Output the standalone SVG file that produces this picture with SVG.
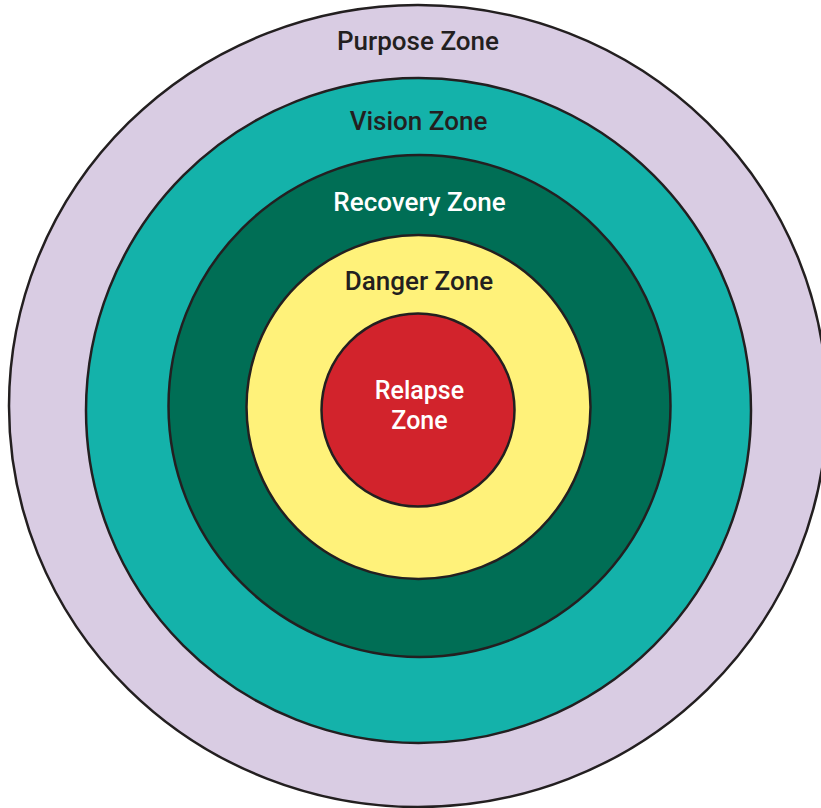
<svg xmlns="http://www.w3.org/2000/svg" width="821" height="808" viewBox="0 0 821 808">
<style>
.ring{stroke:#231F20;stroke-width:2.5}
.lbl{font-family:Roboto,"Liberation Sans",sans-serif;font-weight:500;font-size:26px;text-anchor:middle}
.small{font-size:25px}
.dark{fill:#231F20}
.light{fill:#FFFFFF}
</style>
<rect width="821" height="808" fill="#FFFFFF"/>
<g id="purpose">
<ellipse class="ring" cx="418" cy="406" rx="409" ry="401" fill="#D9CCE3"/>
<text class="lbl dark" x="418" y="50">Purpose Zone</text>
</g>
<g id="vision">
<circle class="ring" cx="418.5" cy="410.5" r="332.5" fill="#14B2AA"/>
<text class="lbl dark" x="418.5" y="129.5">Vision Zone</text>
</g>
<g id="recovery">
<circle class="ring" cx="419.5" cy="406" r="251" fill="#006E55"/>
<text class="lbl light" x="419.5" y="211">Recovery Zone</text>
</g>
<g id="danger">
<circle class="ring" cx="418.5" cy="407" r="172" fill="#FFF27A"/>
<text class="lbl dark" x="419" y="289.5">Danger Zone</text>
</g>
<g id="relapse">
<circle class="ring" cx="418" cy="410" r="96.5" fill="#D2232C"/>
<text class="lbl small light" x="419.5" y="398.5">Relapse</text>
<text class="lbl small light" x="419.5" y="428.5">Zone</text>
</g>
<g id="connectors"/>
</svg>
